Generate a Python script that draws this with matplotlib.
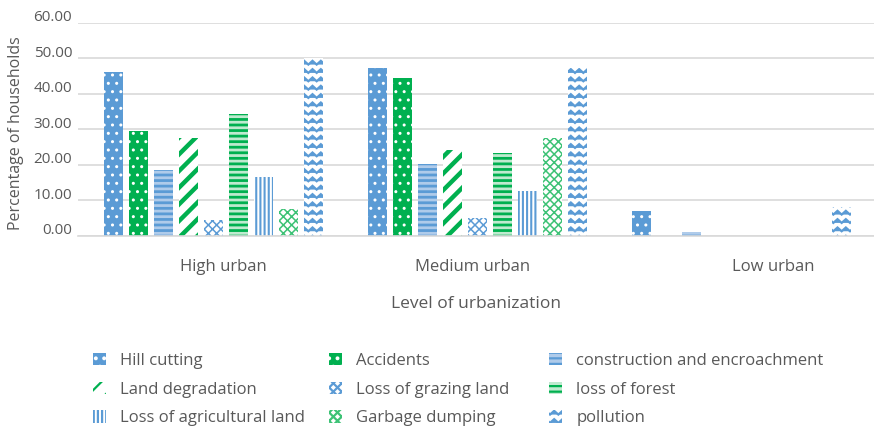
import warnings
import numpy as np
import matplotlib
matplotlib.use("Agg")
import matplotlib.pyplot as plt
from matplotlib import hatch as mhatch
from matplotlib.path import Path
from matplotlib.transforms import ScaledTranslation

warnings.filterwarnings("ignore")

levels = ["High urban", "Medium urban", "Low urban"]
series = ["Hill cutting", "Accidents", "construction and encroachment",
          "Land degradation", "Loss of grazing land", "loss of forest",
          "Loss of agricultural land", "Garbage dumping", "pollution"]

hill_cutting = [46.0, 47.2, 7.0]
accidents = [29.4, 44.3, 0.0]
construction = [18.4, 20.1, 1.0]
land_degradation = [27.4, 24.3, 0.0]
grazing_land = [4.5, 4.9, 0.0]
forest = [34.3, 23.4, 0.0]
agricultural_land = [16.7, 12.6, 0.0]
garbage_dumping = [7.5, 27.4, 0.0]
pollution = [50.1, 47.2, 8.0]

values = [hill_cutting, accidents, construction, land_degradation, grazing_land,
          forest, agricultural_land, garbage_dumping, pollution]


# wavy hatch ('z') for the pollution bars
class Zigzag(mhatch.HatchPatternBase):
    def __init__(self, hatch, density):
        self.num_rows = int(hatch.count('z') * density)
        self.num_cols = self.num_rows
        self.num_vertices = self.num_rows * (2 * self.num_cols + 1)
        self.filled = False
        self.should_stroke = True

    def set_vertices_and_codes(self, vertices, codes):
        amp = 0.45 / self.num_rows
        k = 0
        for r in range(self.num_rows):
            y = (r + 0.25) / self.num_rows
            for c in range(2 * self.num_cols + 1):
                vertices[k] = (c / (2 * self.num_cols), y + amp * (c % 2))
                codes[k] = Path.MOVETO if c == 0 else Path.LINETO
                k += 1


mhatch._hatch_types.append(Zigzag)

blue = "#5B9BD5"
green = "#00B050"
lgreen = "#3CC275"
styles = [
    dict(face=blue, edge="white", hatch="..", lw=1.0),
    dict(face=green, edge="white", hatch="..", lw=1.0),
    dict(face="#AFCBEA", edge=blue, hatch="---", lw=2.0),
    dict(face="white", edge=green, hatch="//", lw=3.2),
    dict(face="white", edge=blue, hatch="xxxx", lw=1.1),
    dict(face="#BFEACF", edge=green, hatch="---", lw=2.0),
    dict(face="white", edge=blue, hatch="||||", lw=1.5),
    dict(face="white", edge=lgreen, hatch="xxxx", lw=1.1),
    dict(face="white", edge=blue, hatch="zz", lw=1.6),
]

plt.rcParams['font.family'] = ['Open Sans', 'DejaVu Sans']
text_color = "#595959"
grid_color = "#D9D9D9"

fig = plt.figure(figsize=(8.74, 4.28), dpi=100)
ax = fig.add_axes([0.089, 0.449, 0.911, 0.498])

x = np.arange(len(levels))
pitch = 0.0947
width = 0.072
handles = []
for j, (name, vals, st) in enumerate(zip(series, values, styles)):
    plt.rcParams['hatch.linewidth'] = st["lw"]
    bars = ax.bar(x + (j - 4) * pitch, vals, width, facecolor=st["face"],
                  edgecolor=st["edge"], hatch=st["hatch"], linewidth=0,
                  label=name)
    for b in bars:
        if hasattr(b, "set_hatch_linewidth"):
            b.set_hatch_linewidth(st["lw"])
    handles.append(bars)

ax.set_xlim(-0.513, 2.502)
ax.set_ylim(0, 60)
ax.set_yticks(np.arange(0, 61, 10))
ax.set_yticklabels([f"{v:.2f}" for v in np.arange(0, 61, 10)])
ax.grid(axis="y", color=grid_color, linewidth=1.2)
ax.set_axisbelow(True)
for s in ["top", "right", "left"]:
    ax.spines[s].set_visible(False)
ax.spines["bottom"].set_color(grid_color)
ax.spines["bottom"].set_linewidth(1.2)

label_shift = [0.04, -0.02, 0.12]
ax.set_xticks(x + np.array(label_shift))
ax.set_xticklabels(levels)
ax.tick_params(axis="x", length=0, pad=17, labelsize=12, labelcolor=text_color)
ax.tick_params(axis="y", length=0, pad=4, labelsize=11, labelcolor=text_color)
for lab in ax.get_yticklabels():
    lab.set_transform(lab.get_transform() + ScaledTranslation(0, 5 / 72, fig.dpi_scale_trans))

ax.set_xlabel("Level of urbanization", fontsize=12.5, color=text_color, labelpad=15)
ax.set_ylabel("Percentage of households", fontsize=11.5, color=text_color)
ax.yaxis.set_label_coords(-0.068, 0.48)

# legend: three columns placed side by side, filled row by row
columns = [[0, 3, 6], [1, 4, 7], [2, 5, 8]]
col_x = [93, 329, 549]
for idx, cx in zip(columns, col_x):
    fig.legend([handles[i] for i in idx], [series[i] for i in idx],
               loc="upper left", bbox_to_anchor=(cx / 874, 1 - 353 / 428),
               frameon=False, fontsize=12, labelcolor=text_color,
               borderpad=0, borderaxespad=0,
               handlelength=0.75, handleheight=0.75, handletextpad=0.9,
               labelspacing=0.76)

fig.savefig("out.png", dpi=100)
